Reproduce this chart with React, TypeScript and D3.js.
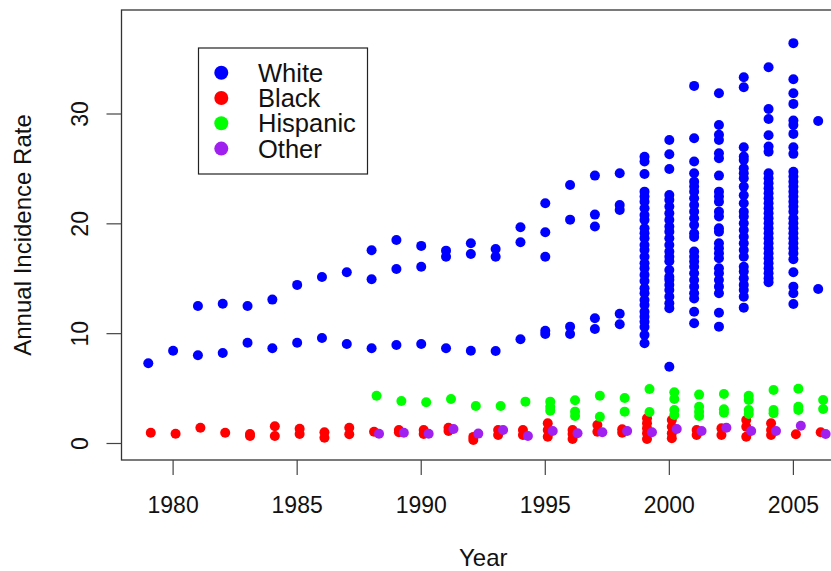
import React from "react";
import * as d3 from "d3";

// ---- data ----
const seriesNames = ["White", "Black", "Hispanic", "Other"];
const seriesColors = ["#0000FF", "#FF0000", "#00FF00", "#A020F0"];
// small horizontal offset (in years) used per group in the original plot
const xJitter = [0, 0.1, 0.2, 0.3];

const xTicks = [1980, 1985, 1990, 1995, 2000, 2005];
const yTicks = [0, 10, 20, 30];

type YearVals = [number, number[]];

const whiteData: YearVals[] = [
  [1979, [7.3]],
  [1980, [8.45]],
  [1981, [12.52, 8.03]],
  [1982, [12.73, 8.24]],
  [1983, [12.52, 9.18]],
  [1984, [13.1, 8.67]],
  [1985, [14.44, 9.18]],
  [1986, [15.16, 9.61]],
  [1987, [15.59, 9.06]],
  [1988, [17.59, 14.95, 8.67]],
  [1989, [18.53, 15.89, 8.97]],
  [1990, [17.99, 16.1, 9.06]],
  [1991, [17.56, 17.01, 8.67]],
  [1992, [18.23, 17.26, 8.45]],
  [1993, [17.71, 17.01, 8.42]],
  [1994, [19.69, 18.32, 9.49]],
  [1995, [21.88, 19.23, 17.01, 10.27, 9.97]],
  [1996, [23.54, 20.38, 10.64, 9.97]],
  [1997, [24.39, 20.84, 19.75, 11.4, 10.43]],
  [1998, [24.6, 21.72, 21.27, 11.82, 10.86]],
  [1999, [26.1, 25.67, 24.54, 22.93, 22.48, 22.02, 21.42, 20.81, 20.36, 19.6, 19.14, 18.69, 18.08, 17.62, 17.01, 16.41, 15.96, 15.35, 14.8, 14.13, 13.68, 13.07, 12.61, 12.0, 11.55, 11.09, 10.6, 9.88, 9.13]],
  [2000, [27.64, 26.34, 25.0, 22.63, 22.18, 21.57, 20.97, 20.36, 19.75, 19.29, 18.69, 18.08, 17.47, 17.01, 16.6, 15.8, 15.19, 14.9, 14.44, 13.98, 13.37, 12.77, 12.31, 6.99]],
  [2001, [32.56, 27.8, 25.67, 24.61, 23.84, 23.39, 22.93, 22.33, 21.72, 21.11, 20.51, 19.9, 19.14, 18.8, 17.47, 17.01, 16.56, 16.1, 15.5, 14.89, 14.28, 13.68, 13.2, 12.0, 10.95]],
  [2002, [31.89, 29.0, 28.1, 27.64, 26.43, 25.97, 24.39, 22.93, 22.48, 22.02, 21.11, 20.66, 19.6, 19.29, 18.23, 17.78, 17.32, 16.87, 15.96, 15.5, 14.89, 14.28, 13.68, 11.91, 10.64]],
  [2003, [33.35, 32.44, 26.98, 26.12, 25.82, 25.06, 24.61, 24.15, 23.39, 22.6, 21.88, 21.11, 20.66, 20.05, 19.44, 18.83, 18.23, 17.62, 17.01, 16.1, 15.65, 15.05, 14.44, 13.98, 13.37, 12.37]],
  [2004, [34.26, 30.46, 29.55, 28.07, 27.03, 26.57, 24.61, 24.15, 23.7, 23.24, 22.79, 22.33, 21.88, 21.42, 20.97, 20.51, 20.05, 19.6, 19.14, 18.69, 18.23, 17.78, 17.32, 16.87, 16.41, 15.96, 15.5, 15.05, 14.68]],
  [2005, [36.45, 33.17, 31.89, 30.92, 29.4, 29.0, 28.19, 26.98, 26.37, 24.75, 24.3, 23.84, 23.39, 22.93, 22.48, 22.02, 21.57, 21.11, 20.51, 20.05, 19.6, 19.14, 18.69, 18.23, 17.78, 17.32, 16.77, 15.59, 14.28, 13.68, 12.7]],
  [2006, [29.37, 14.07]],
];

const blackData: YearVals[] = [
  [1979, [0.98]],
  [1980, [0.89]],
  [1981, [1.44]],
  [1982, [0.98]],
  [1983, [0.87, 0.68]],
  [1984, [1.57, 0.68]],
  [1985, [1.35, 0.87]],
  [1986, [1.02, 0.53]],
  [1987, [1.44, 0.84]],
  [1988, [1.07]],
  [1989, [1.23, 1.02]],
  [1990, [1.23, 0.87]],
  [1991, [1.44, 1.14]],
  [1992, [0.6, 0.32]],
  [1993, [1.23, 0.77]],
  [1994, [1.23, 0.77]],
  [1995, [1.84, 1.23, 0.62]],
  [1996, [1.23, 0.87, 0.41]],
  [1997, [1.68, 1.07]],
  [1998, [1.29, 0.98]],
  [1999, [2.3, 1.84, 1.38, 0.93, 0.41]],
  [2000, [2.14, 1.53, 0.93, 0.47]],
  [2001, [1.23, 0.77]],
  [2002, [1.38, 0.77]],
  [2003, [2.14, 1.53, 0.62]],
  [2004, [1.84, 1.23, 0.77]],
  [2005, [0.84]],
  [2006, [1.02]],
];

const hispanicData: YearVals[] = [
  [1988, [4.35]],
  [1989, [3.87]],
  [1990, [3.75]],
  [1991, [4.05]],
  [1992, [3.42]],
  [1993, [3.42]],
  [1994, [3.81]],
  [1995, [3.81, 3.35, 2.99]],
  [1996, [3.93, 2.9, 2.5]],
  [1997, [4.35, 2.44]],
  [1998, [4.14, 2.9]],
  [1999, [4.96, 2.87]],
  [2000, [4.66, 4.05, 3.05, 2.6]],
  [2001, [4.45, 3.35, 2.9, 2.5]],
  [2002, [4.5, 3.11, 2.81]],
  [2003, [4.35, 3.96, 3.05, 2.69]],
  [2004, [4.87, 3.05, 2.75]],
  [2005, [4.99, 3.35, 3.05]],
  [2006, [3.96, 3.14]],
];

const otherData: YearVals[] = [
  [1988, [0.89]],
  [1989, [0.98]],
  [1990, [0.89]],
  [1991, [1.32]],
  [1992, [0.9]],
  [1993, [1.23]],
  [1994, [0.68]],
  [1995, [1.14]],
  [1996, [0.93]],
  [1997, [1.02]],
  [1998, [1.14]],
  [1999, [1.02]],
  [2000, [1.32]],
  [2001, [1.14]],
  [2002, [1.44]],
  [2003, [1.14]],
  [2004, [1.14]],
  [2005, [1.62]],
  [2006, [0.87]],
];

const allSeries = [whiteData, blackData, hispanicData, otherData];

// ---- layout ----
const W = 831;
const H = 571;
const plotLeft = 121.5;
const plotRight = 845;
const plotTop = 10;
const plotBottom = 460;
const FONT = "'Liberation Sans', Arial, Helvetica, sans-serif";

export default function App() {
  const x = d3.scaleLinear().domain([1977.92, 2007.08]).range([plotLeft, plotRight]);
  const y = d3.scaleLinear().domain([0, 30]).range([443.5, 114]);

  const points: { cx: number; cy: number; color: string; key: string }[] = [];
  allSeries.forEach((s, si) => {
    s.forEach(([yr, vals]) => {
      vals.forEach((v, vi) => {
        points.push({
          cx: x(yr + xJitter[si]),
          cy: y(v),
          color: seriesColors[si],
          key: `${si}-${yr}-${vi}`,
        });
      });
    });
  });

  const legX = 198.5;
  const legY = 48;
  const legW = 169;
  const legH = 126;
  const legRow = 25.3;

  return (
    <svg
      width={W}
      height={H}
      style={{ position: "absolute", left: 0, top: 0, background: "#fff" }}
      fontFamily={FONT}
    >
      <rect x={0} y={0} width={W} height={H} fill="#fff" />
      {/* points */}
      <g>
        {points.map((p) => (
          <circle key={p.key} cx={p.cx} cy={p.cy} r={5} fill={p.color} />
        ))}
      </g>
      {/* frame */}
      <rect
        x={plotLeft}
        y={plotTop}
        width={plotRight - plotLeft}
        height={plotBottom - plotTop}
        fill="none"
        stroke="#333"
        strokeWidth={1.3}
      />
      {/* x axis */}
      <g>
        {xTicks.map((t) => (
          <g key={t}>
            <line x1={x(t)} x2={x(t)} y1={plotBottom} y2={plotBottom + 15} stroke="#444" strokeWidth={1.2} />
            <text x={x(t)} y={513} textAnchor="middle" fontSize={23} fill="#111">
              {t}
            </text>
          </g>
        ))}
        <text x={(plotLeft + plotRight) / 2} y={566} textAnchor="middle" fontSize={24} fill="#111">
          Year
        </text>
      </g>
      {/* y axis */}
      <g>
        {yTicks.map((t) => (
          <g key={t}>
            <line x1={plotLeft - 15} x2={plotLeft} y1={y(t)} y2={y(t)} stroke="#444" strokeWidth={1.2} />
            <text
              x={88}
              y={y(t)}
              transform={`rotate(-90, 88, ${y(t)})`}
              textAnchor="middle"
              fontSize={23}
              fill="#111"
            >
              {t}
            </text>
          </g>
        ))}
        <text
          x={31}
          y={(plotTop + plotBottom) / 2}
          transform={`rotate(-90, 31, ${(plotTop + plotBottom) / 2})`}
          textAnchor="middle"
          fontSize={24}
          fill="#111"
        >
          Annual Incidence Rate
        </text>
      </g>
      {/* legend */}
      <g>
        <rect x={legX} y={legY} width={legW} height={legH} fill="#fff" stroke="#222" strokeWidth={1.2} />
        {seriesNames.map((n, i) => (
          <g key={n}>
            <circle cx={221.3} cy={72.7 + i * legRow} r={7} fill={seriesColors[i]} />
            <text x={258} y={72.7 + i * legRow + 9} fontSize={25.5} fill="#111">
              {n}
            </text>
          </g>
        ))}
      </g>
    </svg>
  );
}
